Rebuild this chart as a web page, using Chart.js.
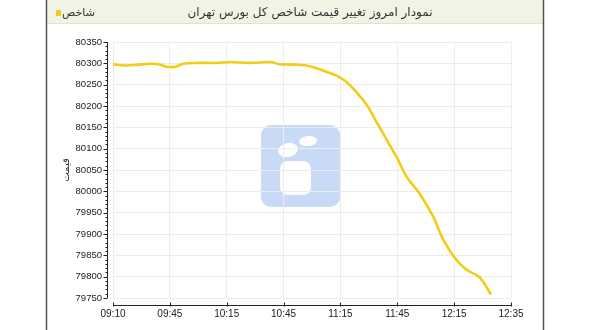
<!DOCTYPE html>
<html>
<head>
<meta charset="utf-8">
<script src="https://cdn.jsdelivr.net/npm/chart.js@4"></script>
<style>
  html, body { margin: 0; padding: 0; background: #fff; }
  #wrap { width: 590px; height: 330px; }
</style>
</head>
<body>
<div id="wrap"><canvas id="chart" width="590" height="330"></canvas></div>
<script>
// Titres et libellés
const chartTitle = 'نمودار امروز تغییر قیمت شاخص کل بورس تهران';
const seriesName = 'شاخص';
const yTitle = 'قیمت';

// Libellés de l'axe horizontal (espacés régulièrement sur le graphique)
const tickLabels = ['09:10', '09:45', '10:15', '10:45', '11:15', '11:45', '12:15', '12:35'];

// Heures des points relevés et valeurs de l'indice
const times = ['09:10', '09:17', '09:26', '09:32', '09:38', '09:43', '09:48', '09:52', '10:00', '10:09',
               '10:17', '10:27', '10:38', '10:43', '10:50', '10:57', '11:02', '11:07', '11:13', '11:18',
               '11:24', '11:29', '11:34', '11:39', '11:45', '11:50', '11:57', '12:04', '12:09', '12:15',
               '12:19', '12:24', '12:28'];
const values = [80298, 80295, 80297, 80299, 80298, 80292, 80292, 80299, 80301, 80301,
                80303, 80301, 80303, 80298, 80297, 80295, 80289, 80281, 80271, 80257,
                80230, 80202, 80163, 80124, 80077, 80034, 79993, 79940, 79889, 79846,
                79818, 79798, 79758];

// Bornes de l'axe vertical
const yMin = 79750;
const yMax = 80350;
const yStep = 50;

// Convertir "hh:mm" en minutes
function toMinutes(t) {
    const p = t.split(':');
    return parseInt(p[0], 10) * 60 + parseInt(p[1], 10);
}

// Position d'une heure sur l'axe (interpolée entre deux libellés)
function axisPos(t) {
    const m = toMinutes(t);
    const ticks = tickLabels.map(toMinutes);
    for (let i = 0; i < ticks.length - 1; i++) {
        if (m <= ticks[i + 1]) {
            return i + (m - ticks[i]) / (ticks[i + 1] - ticks[i]);
        }
    }
    return ticks.length - 1;
}

const points = times.map((t, i) => ({ x: axisPos(t), y: values[i] }));

const FONT = '"Liberation Sans", Arial, sans-serif';
const AR_FONT = '"DejaVu Sans", sans-serif';

// Cadre, barre de titre, légende et filigrane
const framePlugin = {
    id: 'frame',
    beforeDraw(chart) {
        const ctx = chart.ctx;
        ctx.save();
        ctx.fillStyle = '#fff';
        ctx.fillRect(0, 0, chart.width, chart.height);

        // barre de titre
        ctx.fillStyle = '#f2f2e5';
        ctx.fillRect(47, 0, 496, 23);
        ctx.strokeStyle = '#e2e2d2';
        ctx.beginPath();
        ctx.moveTo(47, 23.5);
        ctx.lineTo(543, 23.5);
        ctx.stroke();

        // bordures du cadre
        ctx.strokeStyle = '#555';
        ctx.lineWidth = 1.5;
        ctx.beginPath();
        ctx.moveTo(46.5, 0);
        ctx.lineTo(46.5, chart.height);
        ctx.moveTo(543.5, 0);
        ctx.lineTo(543.5, chart.height);
        ctx.stroke();

        // titre
        ctx.fillStyle = '#333';
        ctx.font = '12px ' + AR_FONT;
        ctx.textAlign = 'center';
        ctx.textBaseline = 'middle';
        ctx.fillText(chartTitle, 310, 13);

        // légende
        ctx.fillStyle = '#f1cd16';
        ctx.fillRect(56, 10, 5, 6);
        ctx.fillStyle = '#333';
        ctx.font = '11px ' + AR_FONT;
        ctx.textAlign = 'left';
        ctx.fillText(seriesName, 62, 13);

        // filigrane
        ctx.fillStyle = '#c8daf6';
        ctx.beginPath();
        ctx.roundRect(261, 125, 79, 82, 10);
        ctx.fill();
        ctx.fillStyle = '#fff';
        ctx.beginPath();
        ctx.ellipse(288, 150, 10, 7, -0.2, 0, Math.PI * 2);
        ctx.fill();
        ctx.beginPath();
        ctx.ellipse(308, 141, 9, 5, -0.1, 0, Math.PI * 2);
        ctx.fill();
        ctx.beginPath();
        ctx.roundRect(280, 161, 31, 34, 8);
        ctx.fill();
        ctx.restore();
    },
    afterDraw(chart) {
        // axes détachés avec graduations
        const ctx = chart.ctx;
        const a = chart.chartArea;
        const xs = chart.scales.x;
        const ys = chart.scales.y;
        ctx.save();
        ctx.strokeStyle = '#222';
        ctx.lineWidth = 1;
        const ax = Math.round(a.left - 6) + 0.5;
        ctx.beginPath();
        ctx.moveTo(ax, a.top);
        ctx.lineTo(ax, a.bottom);
        for (let v = yMin; v <= yMax; v += 10) {
            const py = Math.round(ys.getPixelForValue(v)) + 0.5;
            const len = (v - yMin) % yStep === 0 ? 4 : 2;
            ctx.moveTo(ax - len, py);
            ctx.lineTo(ax, py);
        }
        const ay = Math.round(a.bottom + 7) + 0.5;
        ctx.moveTo(a.left, ay);
        ctx.lineTo(a.right, ay);
        for (let i = 0; i < tickLabels.length; i++) {
            const px = Math.round(xs.getPixelForValue(i)) + 0.5;
            ctx.moveTo(px, ay - 3);
            ctx.lineTo(px, ay + 1);
        }
        ctx.stroke();
        ctx.restore();
    }
};

new Chart(document.getElementById('chart'), {
    type: 'line',
    data: {
        datasets: [{
            label: seriesName,
            data: points,
            borderColor: '#f1cd16',
            borderWidth: 2.6,
            pointRadius: 0,
            tension: 0.4,
            fill: false
        }]
    },
    options: {
        responsive: false,
        animation: false,
        layout: { padding: { left: 47, right: 79, top: 42, bottom: 0 } },
        plugins: {
            legend: { display: false },
            title: { display: false },
            tooltip: { enabled: false }
        },
        scales: {
            x: {
                type: 'linear',
                min: 0,
                max: tickLabels.length - 1,
                afterFit: s => { s.height = 32; },
                border: { display: false },
                grid: { color: '#ececec', drawTicks: false },
                ticks: {
                    stepSize: 1,
                    padding: 10,
                    maxRotation: 0,
                    color: '#222',
                    font: { family: FONT, size: 10 },
                    callback: v => tickLabels[v]
                }
            },
            y: {
                min: yMin,
                max: yMax,
                afterFit: s => { s.width = 66; },
                border: { display: false },
                grid: { color: '#ececec', drawTicks: false },
                title: {
                    display: true,
                    text: yTitle,
                    color: '#333',
                    font: { family: AR_FONT, size: 10 },
                    padding: { top: 13, bottom: 4 }
                },
                ticks: {
                    stepSize: yStep,
                    padding: 11,
                    color: '#222',
                    font: { family: FONT, size: 9.5 },
                    callback: v => String(v)
                }
            }
        }
    },
    plugins: [framePlugin]
});
</script>
</body>
</html>
